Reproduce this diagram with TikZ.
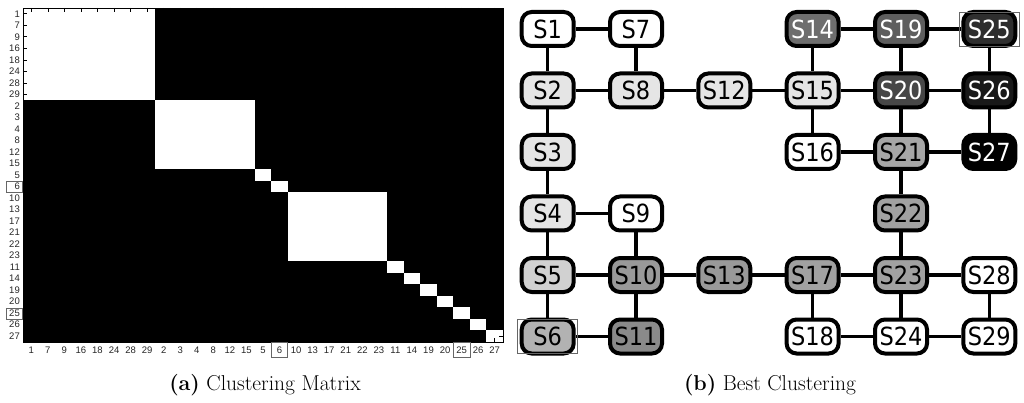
\documentclass[tikz,border=0pt]{standalone}
\usepackage{fontspec}
\newfontfamily\nodefont{DejaVu Sans Condensed}
\newfontfamily\axfont{Liberation Sans}
\begin{document}
\begin{tikzpicture}[x=1pt,y=-1pt,
  snode/.style={draw=black, line width=4pt, rounded corners=10pt, minimum width=52pt, minimum height=34pt, inner sep=0pt, font=\nodefont\fontsize{25}{25}\selectfont},
  conn/.style={line width=3.5pt},
  axl/.style={font=\axfont\fontsize{9.5}{10}\selectfont, text=black!85, inner sep=1pt},
  captxt/.style={font=\fontsize{21.5}{24}\selectfont, anchor=base, inner sep=0pt},
  hbox/.style={draw=black!60, line width=0.8pt}
]
\useasboundingbox (0,0) rectangle (1024,403);
\def\cw{16.5517}
\def\rh{11.5172}
% matrix
\fill[black] (23,8) rectangle (503,342);
\foreach \a/\b in {0/8,8/14,14/15,15/16,16/22,22/23,23/24,24/25,25/26,26/27,27/28,28/29}
  \fill[white] ({23+\a*\cw},{8+\a*\rh}) rectangle ({23+\b*\cw},{8+\b*\rh});
\foreach \i in {0,...,28}{
  \draw[black, line width=0.6pt] ({23+(\i+0.5)*\cw},8) -- ++(0,4);
  \draw[black, line width=0.6pt] ({23+(\i+0.5)*\cw},342) -- ++(0,-4);
  \draw[black, line width=0.6pt] (23,{8+(\i+0.5)*\rh}) -- ++(4,0);
  \draw[black, line width=0.6pt] (503,{8+(\i+0.5)*\rh}) -- ++(-4,0);
}
\draw[black, line width=0.6pt] (23,8) rectangle (503,342);
\foreach \l [count=\i from 0] in {1,7,9,16,18,24,28,29,2,3,4,8,12,15,5,6,10,13,17,21,22,23,11,14,19,20,25,26,27}{
  \node[axl, anchor=east] (yl\i) at (21,{8+(\i+0.5)*\rh}) {\l};
  \node[axl] (xl\i) at ({23+(\i+0.5)*\cw},350) {\l};
}
\draw[hbox] (6,{8+15*\rh+0.5}) rectangle (22,{8+16*\rh+0.5});
\draw[hbox] (6,{8+26*\rh+0.5}) rectangle (22,{8+27*\rh+0.5});
\draw[hbox] ({23+15*\cw},342) rectangle ({23+16*\cw},357);
\draw[hbox] ({23+26*\cw},342) rectangle ({23+27*\cw},357);
\node[captxt] (capa) at (265,390) {\textbf{(a)} Clustering Matrix};
% graph
\def\ca{547.7}\def\cb{636}\def\cc{724.3}\def\cd{812.6}\def\ce{901}\def\cf{989.3}
\def\ra{29}\def\rb{90.5}\def\rc{152}\def\rd{213.5}\def\re{275}\def\rf{336.5}
\node[snode, fill=white] (S1) at (\ca,\ra) {S1};
\node[snode, fill=black!10] (S2) at (\ca,\rb) {S2};
\node[snode, fill=black!10] (S3) at (\ca,\rc) {S3};
\node[snode, fill=black!10] (S4) at (\ca,\rd) {S4};
\node[snode, fill=black!18] (S5) at (\ca,\re) {S5};
\node[snode, fill=black!30] (S6) at (\ca,\rf) {S6};
\node[snode, fill=white] (S7) at (\cb,\ra) {S7};
\node[snode, fill=black!10] (S8) at (\cb,\rb) {S8};
\node[snode, fill=white] (S9) at (\cb,\rd) {S9};
\node[snode, fill=black!40] (S10) at (\cb,\re) {S10};
\node[snode, fill=black!46] (S11) at (\cb,\rf) {S11};
\node[snode, fill=black!10] (S12) at (\cc,\rb) {S12};
\node[snode, fill=black!40] (S13) at (\cc,\re) {S13};
\node[snode, fill=black!57, text=white] (S14) at (\cd,\ra) {S14};
\node[snode, fill=black!10] (S15) at (\cd,\rb) {S15};
\node[snode, fill=white] (S16) at (\cd,\rc) {S16};
\node[snode, fill=black!37] (S17) at (\cd,\re) {S17};
\node[snode, fill=white] (S18) at (\cd,\rf) {S18};
\node[snode, fill=black!63, text=white] (S19) at (\ce,\ra) {S19};
\node[snode, fill=black!72, text=white] (S20) at (\ce,\rb) {S20};
\node[snode, fill=black!35] (S21) at (\ce,\rc) {S21};
\node[snode, fill=black!37] (S22) at (\ce,\rd) {S22};
\node[snode, fill=black!37] (S23) at (\ce,\re) {S23};
\node[snode, fill=white] (S24) at (\ce,\rf) {S24};
\node[snode, fill=black!82, text=white] (S25) at (\cf,\ra) {S25};
\node[snode, fill=black!90, text=white] (S26) at (\cf,\rb) {S26};
\node[snode, fill=black, text=white] (S27) at (\cf,\rc) {S27};
\node[snode, fill=white] (S28) at (\cf,\re) {S28};
\node[snode, fill=white] (S29) at (\cf,\rf) {S29};
\foreach \p/\q in {S1/S7,S1/S2,S7/S8,S2/S8,S8/S12,S12/S15,S2/S3,S3/S4,S4/S9,S4/S5,S9/S10,S5/S10,S10/S13,S13/S17,S5/S6,S10/S11,S6/S11,S14/S19,S19/S25,S14/S15,S19/S20,S25/S26,S15/S20,S20/S26,S15/S16,S20/S21,S26/S27,S16/S21,S21/S27,S21/S22,S22/S23,S17/S23,S23/S28,S17/S18,S23/S24,S28/S29,S18/S24,S24/S29}
  \draw[conn] (\p) -- (\q);
\draw[hbox] ([xshift=-2pt,yshift=-2pt]S6.north west) rectangle ([xshift=2pt,yshift=2pt]S6.south east);
\draw[hbox] ([xshift=-2pt,yshift=-2pt]S25.north west) rectangle ([xshift=2pt,yshift=2pt]S25.south east);
\node[captxt] (capb) at (770,390) {\textbf{(b)} Best Clustering};
\end{tikzpicture}
\end{document}
